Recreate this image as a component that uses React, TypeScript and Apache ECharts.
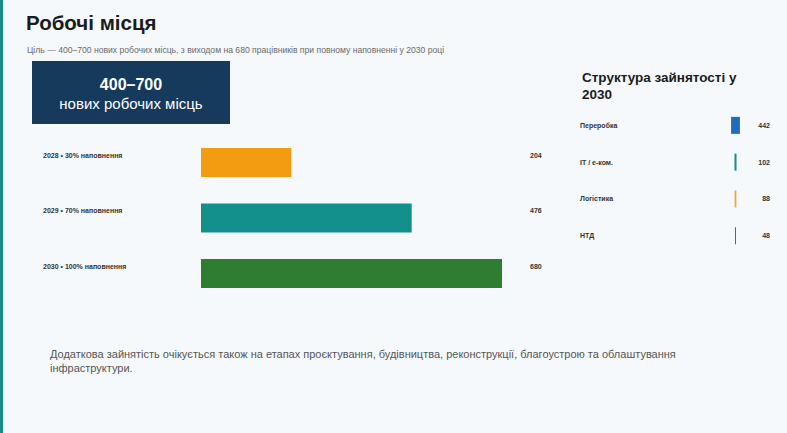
import React, { useEffect, useRef } from "react";
import * as echarts from "echarts";

const stageLabels = ["2028 • 30% наповнення", "2029 • 70% наповнення", "2030 • 100% наповнення"];
const stageValues = [204, 476, 680];
const stageColors = ["#f39c12", "#13908b", "#2e7d32"];

const sectorLabels = ["Переробка", "IT / e-ком.", "Логістика", "НТД"];
const sectorValues = [442, 102, 88, 48];
const sectorColors = ["#1f6fb8", "#13908b", "#f0a92b", "#2e7d32"];

const FONT = "'Liberation Sans', Arial, sans-serif";

export default function App() {
  const ref = useRef<HTMLDivElement>(null);
  useEffect(() => {
    if (!ref.current) return;
    const chart = echarts.init(ref.current, undefined, { renderer: "svg" });
    const sectorMax = 1000;
    const stageLabelStyle = {
      fontSize: 7, fontWeight: "bold", color: "#333", fontFamily: FONT,
      verticalAlign: "bottom", lineHeight: 15,
    };
    const option: any = {
      animation: false,
      backgroundColor: "#f5f9fc",
      textStyle: { fontFamily: FONT },
      grid: [
        { left: 201, top: 134.75, width: 301, height: 166.5 },
        { left: 725.5, top: 107, width: 20, height: 147 },
      ],
      xAxis: [
        { gridIndex: 0, type: "value", min: 0, max: 680, show: false },
        { gridIndex: 1, type: "value", min: 0, max: sectorMax, show: false },
      ],
      yAxis: [
        {
          gridIndex: 0, type: "category", inverse: true, data: stageLabels,
          axisLine: { show: false }, axisTick: { show: false },
          axisLabel: { ...stageLabelStyle, align: "left", margin: 158 },
        },
        {
          gridIndex: 0, type: "category", inverse: true, position: "right",
          data: stageValues.map(String),
          axisLine: { show: false }, axisTick: { show: false },
          axisLabel: { ...stageLabelStyle, align: "left", margin: 28 },
        },
        {
          gridIndex: 1, type: "category", inverse: true, data: sectorLabels,
          axisLine: { show: false }, axisTick: { show: false },
          axisLabel: {
            align: "left", margin: 145.5, fontSize: 7, fontWeight: "bold", color: "#333",
            fontFamily: FONT,
          },
        },
        {
          gridIndex: 1, type: "category", inverse: true, position: "right",
          data: sectorValues.map(String),
          axisLine: { show: false }, axisTick: { show: false },
          axisLabel: {
            align: "right", margin: 24.5, fontSize: 7, fontWeight: "bold", color: "#333",
            fontFamily: FONT,
          },
        },
      ],
      series: [
        {
          type: "bar", xAxisIndex: 0, yAxisIndex: 0, barWidth: 29,
          data: stageValues.map((v, i) => ({ value: v, itemStyle: { color: stageColors[i] } })),
        },
        {
          type: "bar", xAxisIndex: 1, yAxisIndex: 2, stack: "s", barWidth: 17, silent: true,
          itemStyle: { color: "transparent" },
          data: sectorValues.map((v) => sectorMax / 2 - v / 2),
        },
        {
          type: "bar", xAxisIndex: 1, yAxisIndex: 2, stack: "s", barWidth: 17,
          data: sectorValues.map((v, i) => ({ value: v, itemStyle: { color: sectorColors[i] } })),
        },
      ],
      graphic: [
        { type: "rect", left: 0, top: 0, shape: { width: 3, height: 433 }, style: { fill: "#1a8a85" } },
        {
          type: "text", left: 26, top: 12,
          style: { text: "Робочі місця", fontSize: 20.5, fontWeight: "bold", fill: "#1b1b1b", fontFamily: FONT },
        },
        {
          type: "text", left: 27, top: 45,
          style: {
            text: "Ціль — 400–700 нових робочих місць, з виходом на 680 працівників при повному наповненні у 2030 році",
            fontSize: 8.6, fill: "#6a6a6a", fontFamily: FONT,
          },
        },
        { type: "rect", left: 32, top: 61, shape: { width: 198, height: 63 }, style: { fill: "#163a5c" } },
        {
          type: "text", x: 131, y: 84,
          style: {
            text: "400–700", fontSize: 16, fontWeight: "bold", fill: "#fff", fontFamily: FONT,
            align: "center", verticalAlign: "middle",
          },
        },
        {
          type: "text", x: 131, y: 103,
          style: {
            text: "нових робочих місць", fontSize: 15, fill: "#fff", fontFamily: FONT,
            align: "center", verticalAlign: "middle",
          },
        },
        {
          type: "text", left: 582, top: 69,
          style: {
            text: "Структура зайнятості у\n2030", fontSize: 13.5, fontWeight: "bold", fill: "#1b1b1b",
            lineHeight: 17, fontFamily: FONT,
          },
        },
        {
          type: "text", left: 50, top: 347,
          style: {
            text: "Додаткова зайнятість очікується також на етапах проєктування, будівництва, реконструкції, благоустрою та облаштування\nінфраструктури.",
            fontSize: 11, lineHeight: 14, fill: "#555", fontFamily: FONT,
          },
        },
      ],
    };
    chart.setOption(option);
    return () => chart.dispose();
  }, []);
  return (
    <div
      ref={ref}
      style={{ position: "fixed", left: 0, top: 0, width: 787, height: 433 }}
    />
  );
}
